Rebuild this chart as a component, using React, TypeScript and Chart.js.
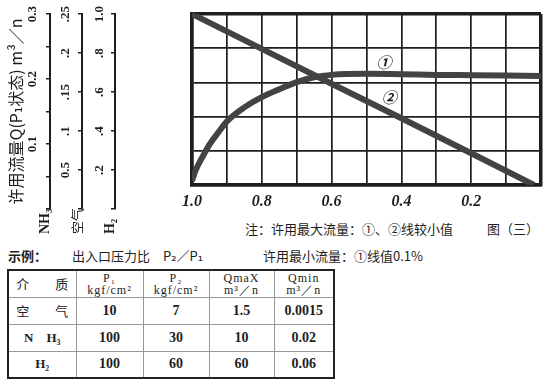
import React, { useEffect, useRef } from 'react';
import { Chart, registerables } from 'chart.js';

Chart.register(...registerables);

// ---------- main chart data ----------
const X_TICKS = [0, 0.1, 0.2, 0.3, 0.4, 0.5, 0.6, 0.7, 0.8, 0.9, 1.0];
const X_TICK_LABELS = ['', '', '0.2', '', '0.4', '', '0.6', '', '0.8', '', '1.0'];
const Y_GRID = [0, 1, 2, 3, 4, 5];

const CURVE1_X = [1.0, 0.99, 0.97, 0.95, 0.92, 0.9, 0.85, 0.8, 0.75, 0.7, 0.65, 0.6, 0.5, 0.4, 0.3, 0.2, 0.1, 0.0];
const CURVE1_Y = [0.12, 0.42, 0.82, 1.18, 1.6, 1.86, 2.27, 2.57, 2.8, 3.01, 3.15, 3.22, 3.25, 3.24, 3.22, 3.21, 3.2, 3.19];
const LINE2_X = [1.0, 0.8, 0.6, 0.4, 0.2, 0.02];
const LINE2_Y = [5.0, 3.98, 2.96, 1.95, 0.93, 0.0];

const MARK_TEXT = ['①', '②'];
const MARK_X = [0.45, 0.435];
const MARK_Y = [3.6, 2.57];

// ---------- left nomogram scales ----------
const Q_TITLE = '许用流量Q(P₁状态) m³／n';
const NH3_TICKS = [0, 0.05, 0.1, 0.15, 0.2, 0.25, 0.3];
const NH3_LABELS = ['', '', '0.1', '', '0.2', '', '0.3'];
const AIR_TICKS = [0, 0.05, 0.1, 0.15, 0.2, 0.25];
const AIR_LABELS = ['', '0.5', '.1', '.15', '.2', '.25'];
const H2_TICKS = [0, 0.2, 0.4, 0.6, 0.8, 1.0];
const H2_LABELS = ['', '.2', '.4', '.6', '.8', '1.0'];
const AXIS_NAMES = ['NH₃', '空气', 'H₂'];

// ---------- notes & table ----------
const NOTE_1 = '注：许用最大流量：①、②线较小值';
const FIG_NAME = '图（三）';
const EXAMPLE = '示例：';
const RATIO = '出入口压力比　P₂／P₁';
const NOTE_2 = '许用最小流量：①线值0.1%';
const HEAD_1 = ['介　　质', 'P₁', 'P₂', 'QmaX', 'Qmin'];
const HEAD_2 = ['', 'kgf/cm²', 'kgf/cm²', 'm³／n', 'm³／n'];
const MEDIA = ['空　　气', 'N　H₃', 'H₂'];
const P1 = ['10', '100', '100'];
const P2 = ['7', '30', '60'];
const QMAX = ['1.5', '10', '60'];
const QMIN = ['0.0015', '0.02', '0.06'];

const INK = '#1e1e1e';
const LINE_COLOR = '#434343';
const CJK = '"Noto Sans CJK SC", "DejaVu Sans", sans-serif';
const SERIF = '"Liberation Serif", "DejaVu Serif", serif';

const labelFor = (ticks: number[], labels: string[]) => (v: number) => {
  let best = 0;
  ticks.forEach((t, i) => { if (Math.abs(t - v) < Math.abs(ticks[best] - v)) best = i; });
  return labels[best];
};

const markPlugin = {
  id: 'marks',
  afterDatasetsDraw(chart: any) {
    const { ctx, scales } = chart;
    ctx.save();
    ctx.font = `italic bold 15px ${CJK}`;
    ctx.fillStyle = INK;
    ctx.textAlign = 'center';
    ctx.textBaseline = 'middle';
    MARK_TEXT.forEach((t, i) => {
      ctx.fillText(t, scales.x.getPixelForValue(MARK_X[i]), scales.y.getPixelForValue(MARK_Y[i]));
    });
    ctx.restore();
  },
};

const AXIS_IDS = ['nh3', 'air', 'h2'];
const axisNamePlugin = {
  id: 'axisNames',
  afterDraw(chart: any) {
    const { ctx } = chart;
    AXIS_IDS.forEach((id, i) => {
      const s = chart.scales[id];
      ctx.save();
      ctx.translate(s.right - 5, s.bottom + 25);
      ctx.rotate(-Math.PI / 2);
      ctx.textAlign = 'left';
      ctx.textBaseline = 'middle';
      ctx.fillStyle = INK;
      ctx.font = i === 1 ? `13px ${CJK}` : `bold 14px ${SERIF}`;
      ctx.fillText(AXIS_NAMES[i], 0, 0);
      ctx.restore();
    });
  },
};

function leftAxis(ticks: number[], labels: string[], weight: number, width: number, pad: number, title?: string) {
  return {
    axis: 'y',
    type: 'linear',
    position: 'left',
    weight,
    min: ticks[0],
    max: ticks[ticks.length - 1],
    afterBuildTicks: (s: any) => { s.ticks = ticks.map((v) => ({ value: v })); },
    afterFit: (s: any) => { s.width = width; s.paddingTop = 0; s.paddingBottom = 0; },
    ticks: {
      callback: labelFor(ticks, labels),
      minRotation: 90,
      maxRotation: 90,
      crossAlign: 'center',
      padding: pad,
      color: INK,
      font: { family: SERIF, size: 13, weight: 'bold' },
    },
    grid: { drawOnChartArea: false, tickLength: 4, color: INK, lineWidth: 1.5 },
    border: { display: true, width: 2, color: INK },
    title: title
      ? { display: true, text: title, color: INK, font: { family: CJK, size: 16 }, padding: { top: 6, bottom: 0 } }
      : { display: false },
  };
}

export default function App() {
  const mainRef = useRef<HTMLCanvasElement>(null);
  const leftRef = useRef<HTMLCanvasElement>(null);

  useEffect(() => {
    const main = new Chart(mainRef.current as HTMLCanvasElement, {
      type: 'line',
      data: {
        datasets: [
          { data: CURVE1_X.map((x, i) => ({ x, y: CURVE1_Y[i] })), borderColor: LINE_COLOR, borderWidth: 6, pointRadius: 0, cubicInterpolationMode: 'monotone', fill: false },
          { data: LINE2_X.map((x, i) => ({ x, y: LINE2_Y[i] })), borderColor: LINE_COLOR, borderWidth: 6, pointRadius: 0, tension: 0, fill: false },
        ],
      },
      options: {
        animation: false,
        responsive: false,
        layout: { padding: { left: 22, right: 12, top: 14, bottom: 1 } },
        plugins: { legend: { display: false }, tooltip: { enabled: false } },
        scales: {
          x: {
            type: 'linear', reverse: true, min: 0, max: 1,
            afterBuildTicks: (s: any) => { s.ticks = X_TICKS.map((v) => ({ value: v })); },
            afterFit: (s: any) => { s.height = 26; },
            ticks: { callback: labelFor(X_TICKS, X_TICK_LABELS), autoSkip: false, maxRotation: 0, padding: 7, color: INK, font: { family: SERIF, size: 16, style: 'italic', weight: 'bold' } },
            grid: { drawTicks: false, color: INK, lineWidth: (c: any) => (c.tick && (c.tick.value === 0 || c.tick.value === 1) ? 3.5 : 1.7) },
            border: { display: true, width: 3.5, color: INK },
          },
          y: {
            type: 'linear', min: 0, max: 5,
            afterBuildTicks: (s: any) => { s.ticks = Y_GRID.map((v) => ({ value: v })); },
            afterFit: (s: any) => { s.width = 20; },
            ticks: { display: false },
            grid: { drawTicks: false, color: INK, lineWidth: (c: any) => (c.tick && (c.tick.value === 0 || c.tick.value === 5) ? 3.5 : 1.7) },
            border: { display: true, width: 3.5, color: INK },
          },
        },
      } as any,
      plugins: [markPlugin],
    });

    const left = new Chart(leftRef.current as HTMLCanvasElement, {
      type: 'line',
      data: { datasets: [] },
      options: {
        animation: false,
        responsive: false,
        layout: { padding: { left: 0, right: 0, top: 14, bottom: 31 } },
        plugins: { legend: { display: false }, tooltip: { enabled: false } },
        scales: {
          x: { type: 'linear', display: false, min: 0, max: 1 },
          nh3: leftAxis(NH3_TICKS, NH3_LABELS, 3, 50, 5, Q_TITLE),
          air: leftAxis(AIR_TICKS, AIR_LABELS, 2, 32, 4),
          h2: leftAxis(H2_TICKS, H2_LABELS, 1, 33, 3),
        },
      } as any,
      plugins: [axisNamePlugin],
    });

    return () => { main.destroy(); left.destroy(); };
  }, []);

  const cell: React.CSSProperties = { borderRight: '1px solid #999', borderBottom: '1px solid #999', textAlign: 'center', padding: 0 };
  const num: React.CSSProperties = { ...cell, fontFamily: SERIF, fontWeight: 'bold', fontSize: 14 };

  return (
    <div style={{ position: 'absolute', left: 0, top: 0, width: 553, height: 384, background: '#fff', color: INK, fontFamily: CJK, overflow: 'hidden' }}>
      <canvas ref={leftRef} width={125} height={240} style={{ position: 'absolute', left: 0, top: 0, width: 125, height: 240 }} />
      <canvas ref={mainRef} width={403} height={212} style={{ position: 'absolute', left: 150, top: 0, width: 403, height: 212 }} />
      <div style={{ position: 'absolute', left: 245, top: 219, fontSize: 13, whiteSpace: 'nowrap' }}>{NOTE_1}</div>
      <div style={{ position: 'absolute', left: 487, top: 219, fontSize: 13, whiteSpace: 'nowrap' }}>{FIG_NAME}</div>
      <div style={{ position: 'absolute', left: 8, top: 246, fontSize: 13, fontWeight: 'bold', whiteSpace: 'nowrap' }}>{EXAMPLE}</div>
      <div style={{ position: 'absolute', left: 72, top: 246, fontSize: 13, whiteSpace: 'nowrap' }}>{RATIO}</div>
      <div style={{ position: 'absolute', left: 263, top: 246, fontSize: 13, whiteSpace: 'nowrap' }}>{NOTE_2}</div>
      <table style={{ position: 'absolute', left: 7, top: 269, width: 326, borderCollapse: 'collapse', border: '2px solid #222', tableLayout: 'fixed', fontSize: 13 }}>
        <colgroup>
          <col style={{ width: 68 }} />
          <col style={{ width: 67 }} />
          <col style={{ width: 66 }} />
          <col style={{ width: 65 }} />
          <col style={{ width: 60 }} />
        </colgroup>
        <tbody>
          <tr style={{ height: 27 }}>
            {HEAD_1.map((h, i) => (
              <td key={i} style={{ ...cell, fontFamily: i === 0 ? CJK : SERIF, fontSize: i === 0 ? 13 : 12, lineHeight: '12px', letterSpacing: i === 0 ? 0 : 1 }}>
                <div>{h}</div>
                {HEAD_2[i] ? <div>{HEAD_2[i]}</div> : null}
              </td>
            ))}
          </tr>
          {MEDIA.map((m, r) => (
            <tr key={r} style={{ height: 27 }}>
              <td style={{ ...cell, fontFamily: r === 0 ? CJK : SERIF, fontWeight: r === 0 ? 'normal' : 'bold' }}>{m}</td>
              <td style={num}>{P1[r]}</td>
              <td style={num}>{P2[r]}</td>
              <td style={num}>{QMAX[r]}</td>
              <td style={num}>{QMIN[r]}</td>
            </tr>
          ))}
        </tbody>
      </table>
    </div>
  );
}
